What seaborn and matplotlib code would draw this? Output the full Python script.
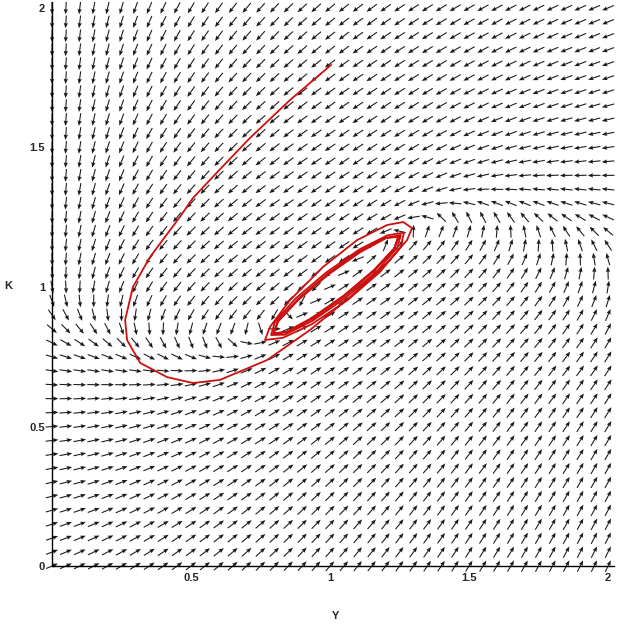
import numpy as np
import pandas as pd
import matplotlib
matplotlib.use("Agg")
import matplotlib.pyplot as plt
import seaborn as sns

# --- direction field grid (41 x 41 arrows, step 0.05) ---
Y_GRID = np.linspace(0, 2, 41)
K_GRID = np.linspace(0, 2, 41)

# --- Kaldor-type model: dY/dt = a (I - sY), dK/dt = I - dK ---
ALPHA = 2.4
BETA = 1.7
DELTA = 1.0
SAVE = 1.0
F_BASE, F_AMP, F_STEEP, F_MID = 1.7, 2.1, 4.4, 1.01
CAP_BASE, CAP_SLOPE = 0.63, 0.94   # investment ceiling grows with Y
SOFT = 12.0

# --- trajectory (Y, K) ---
# big outer swing, then the loops winding onto the cycle round (1, 1)
TRAJ_Y = [1.004, 0.856, 0.712, 0.612, 0.507, 0.460, 0.353, 0.291, 0.263, 0.270,
          0.317, 0.414, 0.507, 0.604, 0.773, 0.928, 1.072, 1.205, 1.277, 1.295,
          1.263, 1.205, 1.097, 0.975, 0.856, 0.784, 0.766,
          0.831, 0.935, 1.063, 1.180, 1.254, 1.266,
          1.206, 1.108, 0.986, 0.874, 0.802, 0.788,
          0.837, 0.936, 1.057, 1.169, 1.241, 1.255,
          1.200, 1.107, 0.991, 0.883, 0.812, 0.797,
          0.843, 0.936, 1.052, 1.160, 1.231, 1.246,
          1.201, 1.109, 0.993, 0.885, 0.813, 0.797,
          0.842, 0.934, 1.050, 1.159, 1.230, 1.246]
TRAJ_K = [1.796, 1.670, 1.534, 1.430, 1.319, 1.251, 1.108, 1.000, 0.882, 0.810,
          0.728, 0.677, 0.656, 0.667, 0.738, 0.846, 0.964, 1.086, 1.168, 1.211,
          1.233, 1.222, 1.168, 1.072, 0.953, 0.857, 0.810,
          0.818, 0.867, 0.953, 1.054, 1.143, 1.195,
          1.185, 1.136, 1.052, 0.957, 0.875, 0.828,
          0.829, 0.878, 0.962, 1.057, 1.140, 1.186,
          1.176, 1.128, 1.047, 0.955, 0.877, 0.834,
          0.838, 0.886, 0.967, 1.059, 1.137, 1.180,
          1.175, 1.125, 1.044, 0.953, 0.876, 0.834,
          0.839, 0.889, 0.970, 1.062, 1.138, 1.180]

TICKS = [0.5, 1, 1.5, 2]
TICK_LABELS = ["0.5", "1", "1.5", "2"]


def soft_clip(x, lo, hi):
    return lo + (np.logaddexp(0, SOFT * (x - lo)) - np.logaddexp(0, SOFT * (x - hi))) / SOFT


def investment(y, k):
    f = F_BASE + F_AMP / (1 + np.exp(-F_STEEP * (y - F_MID)))
    return soft_clip(f - BETA * k, 0.0, CAP_BASE + CAP_SLOPE * y)


sns.set_theme(style="white")
plt.rcParams["font.family"] = ["Liberation Sans", "DejaVu Sans"]

yy, kk = np.meshgrid(Y_GRID, K_GRID)
inv = investment(yy, kk)
u = ALPHA * (inv - SAVE * yy)
v = inv - DELTA * kk
n = np.hypot(u, v)
n[n == 0] = 1

fig = plt.figure(figsize=(6.24, 6.24), dpi=100)
ax = fig.add_axes([0.0388, 0.0705, 0.9579, 0.9257])
ax.quiver(yy, kk, u / n, v / n, angles="xy", scale_units="xy", scale=1 / 0.046,
          pivot="middle", width=0.0018, headwidth=4.0, headlength=5.0,
          headaxislength=4.4, color="#1a1a1a")

traj = pd.DataFrame({"Y": TRAJ_Y, "K": TRAJ_K})
sns.lineplot(data=traj, x="Y", y="K", sort=False, estimator=None,
             color="#cc1010", lw=1.3, ax=ax)

ax.set_xlim(-0.1, 2.05)
ax.set_ylim(-0.05, 2.02)
for side in ["top", "right"]:
    ax.spines[side].set_visible(False)
ax.spines["left"].set_position(("data", 0))
ax.spines["bottom"].set_position(("data", 0))
ax.spines["left"].set_bounds(0, 2.02)
ax.spines["bottom"].set_bounds(0, 2.02)
for side in ["left", "bottom"]:
    ax.spines[side].set_color("black")
    ax.spines[side].set_linewidth(1.0)

ax.set_xticks(TICKS)
ax.set_xticklabels(TICK_LABELS, fontsize=8, fontweight="bold")
ax.set_yticks([0] + TICKS)
ax.set_yticklabels(["0"] + TICK_LABELS, fontsize=8, fontweight="bold")
ax.tick_params(axis="both", length=3, width=0.8, pad=2, direction="out", color="black")
ax.set_xlabel("")
ax.set_ylabel("")

fig.text(336 / 624, 1 - 616 / 624, "Y", ha="center", va="center", fontsize=8, fontweight="bold")
fig.text(8 / 624, 1 - 286 / 624, "K", ha="center", va="center", fontsize=8, fontweight="bold")

fig.savefig("out.png", dpi=100)
